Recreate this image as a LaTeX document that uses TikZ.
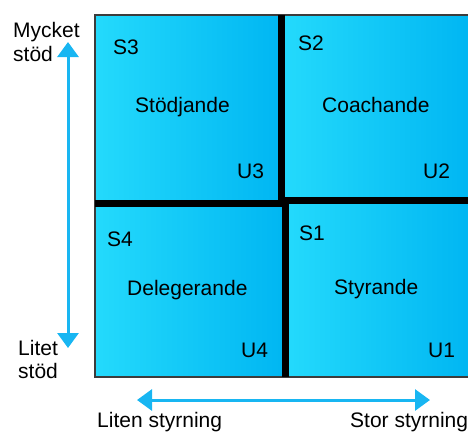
\documentclass[tikz,border=0pt]{standalone}
\usepackage{fontspec}
\setmainfont{Liberation Sans}
\usetikzlibrary{arrows.meta}
\definecolor{cellL}{RGB}{36,218,252}
\definecolor{cellR}{RGB}{0,182,242}
\definecolor{arrowc}{RGB}{24,182,242}
\definecolor{framec}{RGB}{60,60,60}
\tikzset{
  lbl/.style={anchor=base west,inner sep=0pt,font=\fontsize{21}{24}\selectfont},
  cell/.style={left color=cellL,right color=cellR,draw=none},
  divider/.style={line width=6.5pt,black},
  axis/.style={arrowc,line width=3pt,{Triangle[width=21pt,length=15pt]}-{Triangle[width=21pt,length=15pt]}}
}
\begin{document}
\begin{tikzpicture}[x=1pt,y=-1pt]
\useasboundingbox (0,0) rectangle (468,432);
% cells
\fill[cell] (95,15) rectangle (281,201);
\fill[cell] (282,15) rectangle (470,201);
\fill[cell] (95,202) rectangle (285,377);
\fill[cell] (286,201) rectangle (470,377);
% outer frame
\draw[framec,line width=1.5pt] (470,15) -- (95,15) -- (95,377) -- (470,377);
% dividers
\draw[divider] (281.5,15) -- (281.5,203.5);
\draw[divider] (285.5,200) -- (285.5,377);
\draw[divider] (95,203.5) -- (285.5,203.5);
\draw[divider] (281.5,200.5) -- (470,200.5);
% cell labels
\node[lbl] (s3) at (113,54) {S3};
\node[lbl] (stod) at (135,112) {Stödjande};
\node[lbl] (u3) at (237,178) {U3};
\node[lbl] (s2) at (298,50) {S2};
\node[lbl] (coach) at (322,112) {Coachande};
\node[lbl] (u2) at (423,178) {U2};
\node[lbl] (s4) at (107,246) {S4};
\node[lbl] (deleg) at (127,295) {Delegerande};
\node[lbl] (s1) at (299,240) {S1};
\node[lbl] (styr) at (334,294) {Styrande};
\node[lbl] (u4) at (241,357) {U4};
\node[lbl] (u1) at (428,357) {U1};
% axis labels
\node[lbl] (mycket) at (13,37) {Mycket};
\node[lbl] (mstod) at (13,61) {stöd};
\node[lbl] (litet) at (18,355) {Litet};
\node[lbl] (lstod) at (18,378) {stöd};
\node[lbl] (liten) at (97,427) {Liten styrning};
\node[lbl] (stor) at (350,427) {Stor styrning};
% arrows
\coordinate (vtop) at (68,42);
\coordinate (vbot) at (68,348);
\coordinate (hleft) at (137,400);
\coordinate (hright) at (430,400);
\draw[axis] (vtop) -- (vbot);
\draw[axis] (hleft) -- (hright);
\end{tikzpicture}
\end{document}
